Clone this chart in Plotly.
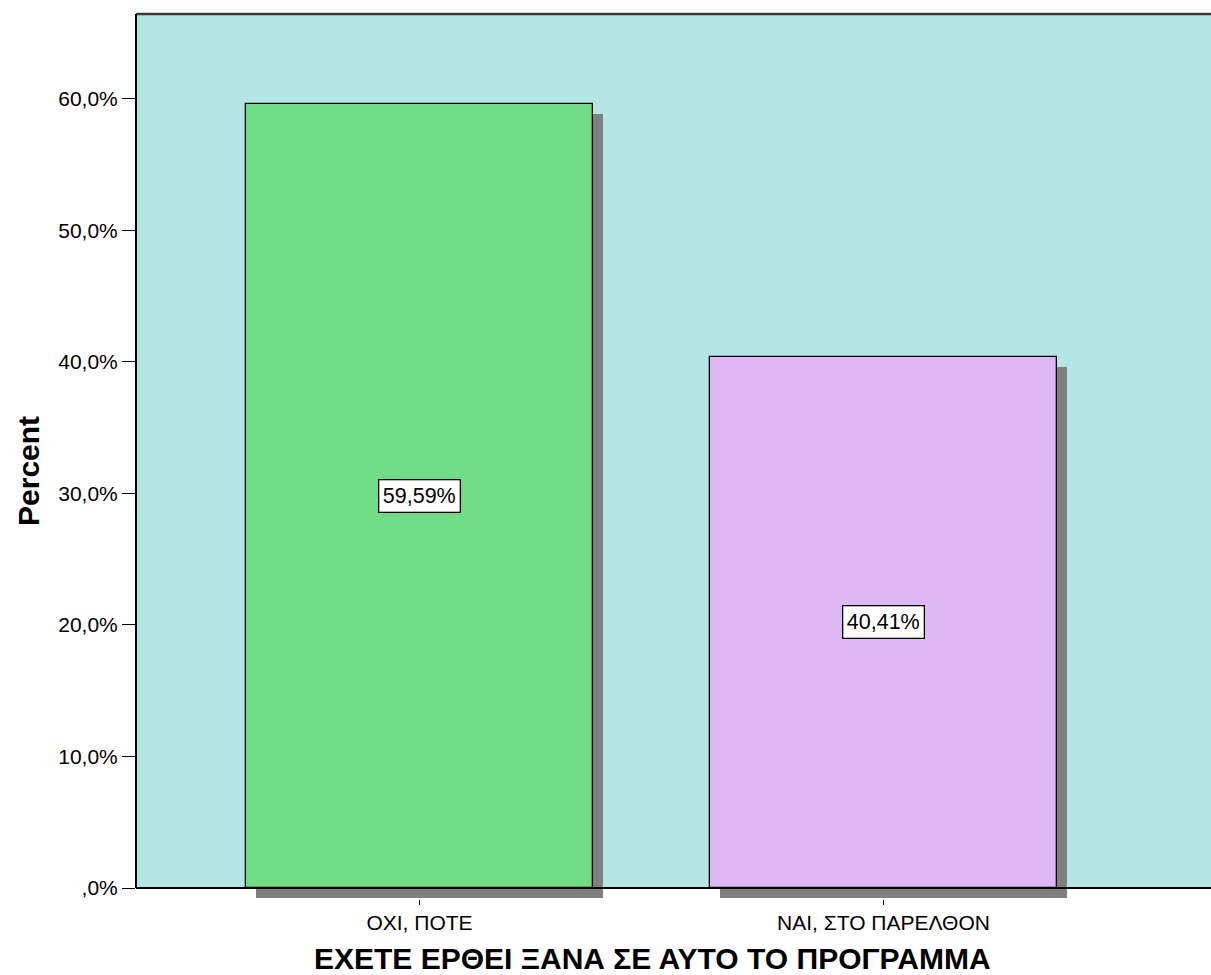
import plotly.graph_objects as go

categories = ["ΟΧΙ, ΠΟΤΕ", "ΝΑΙ, ΣΤΟ ΠΑΡΕΛΘΟΝ"]
percent_values = [59.59, 40.41]
value_labels = ["59,59%", "40,41%"]
bar_colors = ["#71DD86", "#DDB8F2"]
ytick_values = [0, 10, 20, 30, 40, 50, 60]
ytick_labels = [",0%", "10,0%", "20,0%", "30,0%", "40,0%", "50,0%", "60,0%"]
x_title = "ΕΧΕΤΕ ΕΡΘΕΙ ΞΑΝΑ ΣΕ ΑΥΤΟ ΤΟ ΠΡΟΓΡΑΜΜΑ"
y_title = "Percent"

FONT = "Arial, Liberation Sans, sans-serif"
BG = "#B4E6E6"
Y_MIN, Y_MAX = -0.8365, 66.46
X_MIN, X_MAX = -0.611, 1.7058
BAR_W = 0.748
SH_DX = 0.0216   # shadow shift, x units (~10 px)
SH_DY = 0.76     # shadow shift, y units (~10 px)

fig = go.Figure()

# shadows
fig.add_trace(go.Bar(
    x=categories, y=percent_values,
    base=[-SH_DY] * len(categories),
    width=BAR_W, offset=-BAR_W / 2 + SH_DX,
    marker=dict(color="#808080", line=dict(width=0)),
    hoverinfo="skip", showlegend=False,
))
# bars
fig.add_trace(go.Bar(
    x=categories, y=percent_values,
    width=BAR_W, offset=-BAR_W / 2,
    marker=dict(color=bar_colors, line=dict(color="#000000", width=1.3)),
    showlegend=False,
))

for c, v, t in zip(categories, percent_values, value_labels):
    fig.add_annotation(x=c, y=v / 2, xref="x", yref="y", text=t, showarrow=False,
                       font=dict(family=FONT, size=21.5, color="#000"),
                       bgcolor="#FFFFFF", bordercolor="#000000", borderwidth=1.3, borderpad=3.5)

# plot area: x 136..1211, y 14..899 in page pixels
fig.add_annotation(x=0.48, y=-0.0675, xref="paper", yref="paper", text=f"<b>{x_title}</b>",
                   showarrow=False, xanchor="center", yanchor="middle",
                   font=dict(family=FONT, size=30, color="#000"))
fig.add_annotation(x=-0.1005, y=0.4836, xref="paper", yref="paper", text=f"<b>{y_title}</b>",
                   showarrow=False, xanchor="center", yanchor="middle", textangle=-90,
                   font=dict(family=FONT, size=30, color="#000"))

shapes = [
    dict(type="rect", xref="paper", yref="y", x0=0, x1=1, y0=0, y1=Y_MAX,
         fillcolor=BG, line=dict(width=0), layer="below"),
    dict(type="line", xref="paper", yref="paper", x0=0, x1=1, y0=1, y1=1,
         line=dict(color="#3A3A3A", width=2.5), layer="above"),
    dict(type="line", xref="paper", yref="y", x0=0, x1=0, y0=0, y1=Y_MAX,
         line=dict(color="#000000", width=2), layer="above"),
    dict(type="line", xref="paper", yref="y", x0=0, x1=1, y0=0, y1=0,
         line=dict(color="#000000", width=2), layer="above"),
]

fig.update_layout(
    width=1211, height=975,
    margin=dict(l=136, r=0, t=14, b=76),
    paper_bgcolor="#FFFFFF", plot_bgcolor="#FFFFFF",
    barmode="overlay", bargap=0,
    shapes=shapes,
    font=dict(family=FONT, size=21, color="#000"),
    xaxis=dict(type="category", range=[X_MIN, X_MAX], showgrid=False, zeroline=False,
               showline=False, ticks="outside", ticklen=5, tickcolor="#000",
               tickfont=dict(family=FONT, size=21, color="#000")),
    yaxis=dict(range=[Y_MIN, Y_MAX], tickvals=ytick_values, ticktext=ytick_labels,
               showgrid=False, zeroline=False, showline=False,
               ticks="outside", ticklen=13, tickcolor="#000", tickwidth=1.3,
               tickfont=dict(family=FONT, size=21, color="#000")),
)

fig.write_html("out.html", config={"displayModeBar": False},
               post_script="document.body.style.margin='0';document.body.style.overflow='hidden';")
